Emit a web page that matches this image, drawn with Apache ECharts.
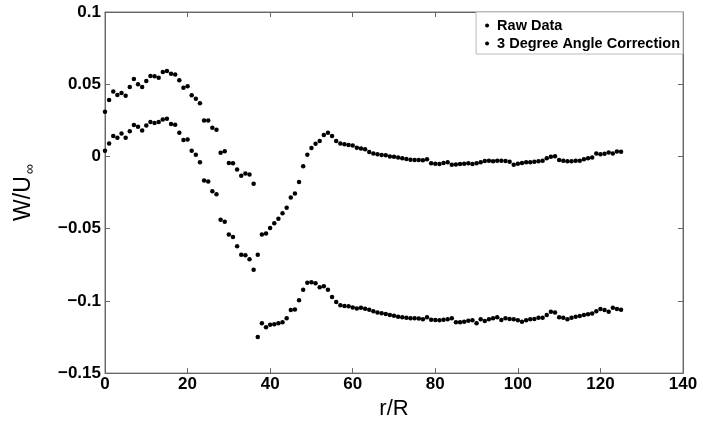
<!DOCTYPE html>
<html><head><meta charset="utf-8">
<script src="https://cdn.jsdelivr.net/npm/echarts@6/dist/echarts.min.js"></script>
<style>html,body{margin:0;padding:0;background:#fff}#c{width:703px;height:425px}</style>
</head><body><div id="c"></div>
<script>
const seriesNames = ['Raw Data', '3 Degree Angle Correction'];
const xTicks = [0, 20, 40, 60, 80, 100, 120, 140];
const yTicks = [-0.15, -0.1, -0.05, 0, 0.05, 0.1];
const rR = [];
for (let i = 0; i <= 125; i++) rR.push(i);
const upper = [0.031,0.039,0.045,0.0425,0.044,0.042,0.048,0.0537,0.050,0.048,
0.0523,0.0557,0.0555,0.0544,0.0584,0.0591,0.0573,0.0568,0.0527,0.0475,
0.0486,0.0423,0.040,0.0368,0.0248,0.0248,0.0198,0.0184,0.0025,0.0036,
-0.0046,-0.0048,-0.0091,-0.0134,-0.0118,-0.0125,-0.0189,-0.068,-0.0541,-0.0534,
-0.0496,-0.0462,-0.0432,-0.0393,-0.0355,-0.0284,-0.0257,-0.0177,-0.0068,0.0012,
0.0059,0.0087,0.0107,0.0148,0.0164,0.0141,0.0107,0.009,0.0084,0.008,
0.0075,0.0061,0.0055,0.005,0.003,0.002,0.0016,0.001,0.0009,0.0,
-0.0003,-0.0007,-0.0012,-0.0018,-0.0023,-0.0025,-0.0024,-0.0026,-0.002,-0.0048,
-0.005,-0.0052,-0.0046,-0.0041,-0.0057,-0.0055,-0.0052,-0.005,-0.0048,-0.0052,
-0.0047,-0.0041,-0.0032,-0.0029,-0.0034,-0.003,-0.0029,-0.0032,-0.0036,-0.0057,
-0.005,-0.0046,-0.0041,-0.004,-0.0036,-0.0033,-0.0029,-0.0012,-0.0002,0.0002,
-0.0025,-0.003,-0.0034,-0.0034,-0.003,-0.0029,-0.002,-0.0012,-0.0007,0.002,
0.0016,0.0018,0.0027,0.002,0.0034,0.0032];
const lower = [0.0039,0.0089,0.0141,0.013,0.0159,0.013,0.0175,0.0218,0.0205,0.018,
0.0214,0.0239,0.0232,0.0239,0.0255,0.0261,0.0225,0.022,0.0164,0.0114,
0.0118,0.0039,0.0012,-0.0041,-0.0166,-0.0173,-0.0241,-0.0261,-0.0439,-0.0452,
-0.0541,-0.0557,-0.0621,-0.068,-0.0684,-0.0711,-0.0784,-0.125,-0.1155,-0.1182,
-0.1166,-0.1162,-0.1155,-0.1148,-0.1121,-0.1064,-0.1059,-0.0996,-0.0923,-0.0875,
-0.0871,-0.0878,-0.0905,-0.0898,-0.0923,-0.0973,-0.1007,-0.103,-0.1035,-0.1037,
-0.1046,-0.1053,-0.1048,-0.1055,-0.1062,-0.1071,-0.108,-0.1085,-0.1091,-0.1098,
-0.1103,-0.111,-0.1114,-0.1116,-0.112,-0.1121,-0.1122,-0.1128,-0.1114,-0.113,
-0.1132,-0.1134,-0.1131,-0.1128,-0.1121,-0.1148,-0.1148,-0.1144,-0.1138,-0.1134,
-0.1155,-0.1128,-0.1139,-0.1128,-0.1121,-0.1114,-0.1132,-0.1121,-0.1125,-0.1128,
-0.1134,-0.1144,-0.1134,-0.1128,-0.1126,-0.1117,-0.1117,-0.1098,-0.1076,-0.108,
-0.1114,-0.1116,-0.1128,-0.1116,-0.111,-0.1105,-0.1098,-0.1092,-0.1087,-0.1071,
-0.1057,-0.1064,-0.1076,-0.1048,-0.1057,-0.1062];

const FONT = '"Liberation Sans", Arial, sans-serif';
const fmtY = v => {
  const r = Math.round(v * 100) / 100;
  if (r === 0) return '0';
  return (r < 0 ? '\u2212' : '') + String(Math.abs(r));
};
const lineStyle = {color: '#666', width: 1};
const chart = echarts.init(document.getElementById('c'));
chart.setOption({
  animation: false,
  backgroundColor: '#fff',
  grid: {left: 105, right: 20, top: 12, bottom: 45, show: true, borderColor: '#777', borderWidth: 1},
  legend: {
    data: seriesNames, right: 20, top: 12, orient: 'vertical', itemGap: 3,
    itemWidth: 10, itemHeight: 4, icon: 'circle',
    padding: [6, 3, 3, 9], borderColor: '#bbb', borderWidth: 1, backgroundColor: '#fff',
    textStyle: {fontFamily: FONT, fontSize: 14.5, fontWeight: 'bold', color: '#000', padding: [0, 0, 0, 0]}
  },
  xAxis: [{
    type: 'value', min: xTicks[0], max: xTicks[xTicks.length - 1], interval: 20,
    name: 'r/R', nameLocation: 'middle', nameGap: 22,
    nameTextStyle: {fontFamily: FONT, fontSize: 22, color: '#000'},
    axisLine: {onZero: false, lineStyle}, axisTick: {inside: true, length: 5, lineStyle},
    splitLine: {show: false},
    axisLabel: {margin: 3, fontFamily: FONT, fontSize: 17, fontWeight: 'bold', color: '#000'}
  }, {
    type: 'value', position: 'top', min: xTicks[0], max: xTicks[xTicks.length - 1], interval: 20,
    axisLine: {onZero: false, lineStyle}, axisTick: {inside: true, length: 5, lineStyle},
    axisLabel: {show: false}, splitLine: {show: false}
  }],
  yAxis: [{
    type: 'value', min: yTicks[0], max: yTicks[yTicks.length - 1], interval: 0.05,
    name: '{a|W/U}{b|\u221e}', nameLocation: 'middle', nameGap: 68,
    nameTextStyle: {fontFamily: FONT, fontSize: 23, color: '#000',
      rich: {a: {fontFamily: FONT, fontSize: 23, color: '#000'},
             b: {fontFamily: FONT, fontSize: 14, color: '#000', verticalAlign: 'bottom', padding: [12, 0, 0, 2]}}},
    axisLine: {onZero: false, lineStyle}, axisTick: {inside: true, length: 5, lineStyle},
    splitLine: {show: false},
    axisLabel: {margin: 4, fontFamily: FONT, fontSize: 17, fontWeight: 'bold', color: '#000', formatter: fmtY}
  }, {
    type: 'value', position: 'right', min: yTicks[0], max: yTicks[yTicks.length - 1], interval: 0.05,
    axisLine: {onZero: false, lineStyle}, axisTick: {inside: true, length: 5, lineStyle},
    axisLabel: {show: false}, splitLine: {show: false}
  }],
  series: [{
    name: seriesNames[0], type: 'scatter', symbol: 'circle', symbolSize: 4.5,
    itemStyle: {color: '#000', opacity: 1}, data: rR.map((x, i) => [x, upper[i]])
  }, {
    name: seriesNames[1], type: 'scatter', symbol: 'circle', symbolSize: 4.5,
    itemStyle: {color: '#000', opacity: 1}, data: rR.map((x, i) => [x, lower[i]])
  }]
});
</script></body></html>
